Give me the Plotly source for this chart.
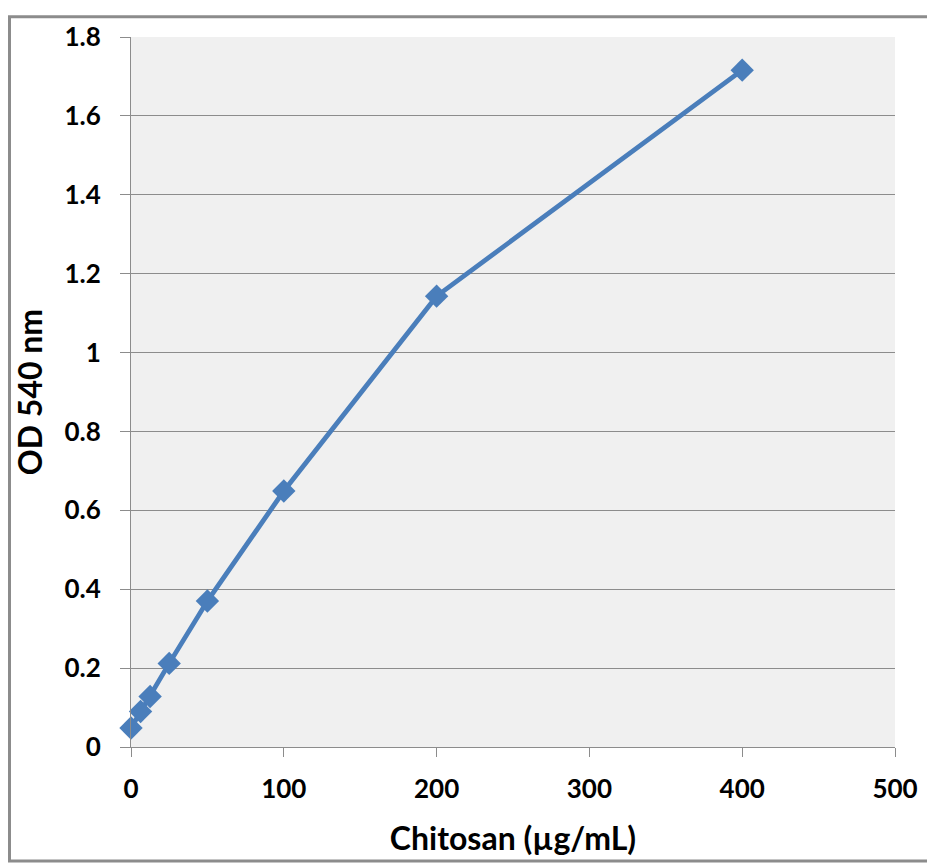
import plotly.graph_objects as go

conc = [0, 6.25, 12.5, 25, 50, 100, 200, 400]
od540 = [0.048, 0.090, 0.128, 0.212, 0.370, 0.649, 1.143, 1.716]
x_ticks = [0, 100, 200, 300, 400, 500]
y_ticks = [0, 0.2, 0.4, 0.6, 0.8, 1, 1.2, 1.4, 1.6, 1.8]
y_tick_labels = ["0", "0.2", "0.4", "0.6", "0.8", "1", "1.2", "1.4", "1.6", "1.8"]

# page body has an 8px margin, so the figure is placed at (8, 8)
W, H = 927, 857
L, R, T, B = 123, 40, 22, 118
pw, ph = W - L - R, H - T - B

fig = go.Figure()
fig.add_trace(go.Scatter(
    x=conc, y=od540, mode="lines+markers",
    line=dict(color="#4a7ebb", width=4.8),
    marker=dict(symbol="diamond", size=18, color="#4a7ebb"),
    cliponaxis=False, showlegend=False,
))

font = "Lato, 'Open Sans', sans-serif"
fig.update_layout(
    width=W, height=H,
    margin=dict(l=L, r=R, t=T, b=B),
    paper_bgcolor="white", plot_bgcolor="#f0f0f0",
    font=dict(family=font, color="black"),
    xaxis=dict(range=[0, 500], tickvals=x_ticks, showgrid=False, zeroline=False,
               showline=True, linecolor="#8c8c8c", linewidth=1,
               ticks="outside", ticklen=9, tickcolor="#8c8c8c",
               ticklabelstandoff=10,
               tickfont=dict(size=26, family=font, weight="bold"),
               title=dict(text="Chitosan (µg/mL)", font=dict(size=32, family=font, weight="bold"), standoff=24)),
    yaxis=dict(range=[0, 1.8], tickvals=y_ticks, ticktext=y_tick_labels,
               showgrid=True, gridcolor="#8c8c8c", gridwidth=1, zeroline=False,
               showline=True, linecolor="#8c8c8c", linewidth=1,
               ticks="outside", ticklen=10, tickcolor="#8c8c8c",
               ticklabelstandoff=14,
               tickfont=dict(size=26, family=font, weight="bold"),
               title=dict(text="OD 540 nm", font=dict(size=32, family=font, weight="bold"), standoff=12)),
)

# outer frame around the whole picture
fig.add_shape(type="rect", xref="paper", yref="paper",
              x0=(1.5 - L) / pw, x1=(W - 3 - L) / pw,
              y0=-(H - 3 - T - ph) / ph, y1=1 + (T - 1.5) / ph,
              line=dict(color="#8c8c8c", width=3), layer="below")

fig.write_html("out.html")
